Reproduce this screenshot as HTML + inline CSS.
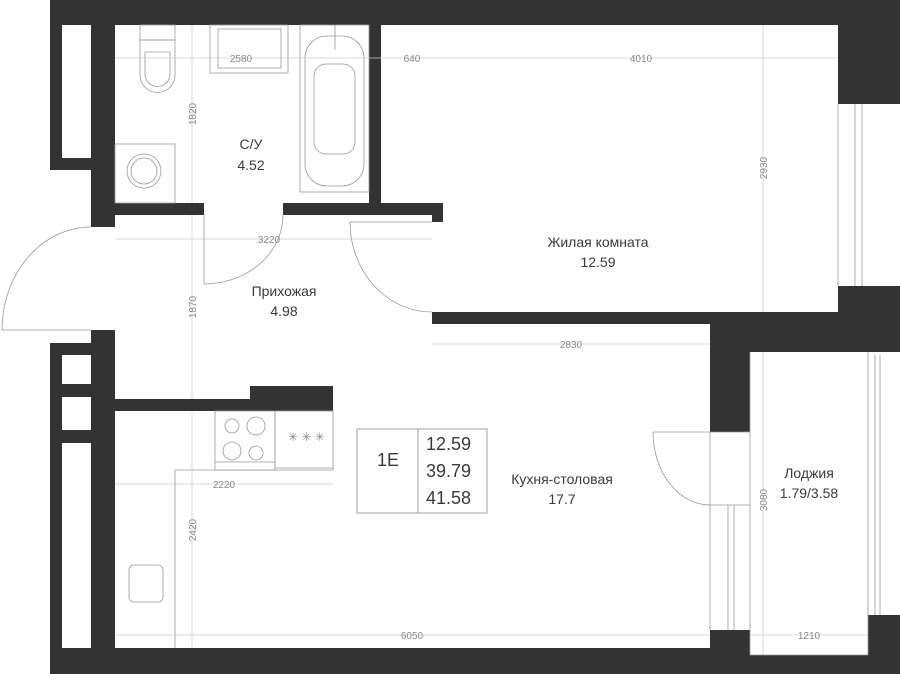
<!DOCTYPE html>
<html><head><meta charset="utf-8"><style>
html,body{margin:0;padding:0;background:#fff;}
svg{display:block;}
.d{fill:#333;}
.t{font-family:"Liberation Sans","DejaVu Sans",sans-serif;fill:#3a3a3a;}
.dim{font-family:"Liberation Sans",sans-serif;fill:#888;font-size:10px;}
.ln{stroke:#ccc;stroke-width:0.8;fill:none;}
.fx{stroke:#999;stroke-width:0.8;fill:none;}
</style></head><body>
<svg width="900" height="674" viewBox="0 0 900 674" xmlns="http://www.w3.org/2000/svg">
<!-- walls -->
<rect class="d" x="50" y="0" width="850" height="25"/>
<rect class="d" x="50" y="0" width="65" height="170"/>
<rect fill="#fff" x="62" y="25" width="29" height="133"/>
<rect class="d" x="91" y="160" width="24" height="67"/>
<rect class="d" x="838" y="0" width="62" height="104"/>
<rect class="d" x="838" y="286" width="62" height="38"/>
<rect class="d" x="369" y="25" width="12" height="190"/>
<rect class="d" x="115" y="203" width="89" height="12"/>
<rect class="d" x="283" y="203" width="160" height="12"/>
<rect class="d" x="432" y="203" width="11" height="19"/>
<rect class="d" x="432" y="312" width="406" height="12"/>
<rect class="d" x="710" y="312" width="190" height="40"/>
<rect class="d" x="710" y="324" width="40" height="108"/>
<rect class="d" x="710" y="630" width="40" height="20"/>
<rect class="d" x="868" y="615" width="32" height="59"/>
<rect class="d" x="50" y="343" width="65" height="331"/>
<rect fill="#fff" x="62" y="355" width="29" height="29"/>
<rect fill="#fff" x="62" y="397" width="29" height="33"/>
<rect fill="#fff" x="62" y="443" width="29" height="205"/>
<rect class="d" x="50" y="648" width="850" height="26"/>
<rect fill="#fff" x="750" y="640" width="118" height="15"/>
<rect class="d" x="115" y="399" width="218" height="12"/>
<rect class="d" x="250" y="386" width="83" height="25"/>
<rect class="d" x="91" y="330" width="24" height="13"/>
<!-- windows -->
<g class="fx">
<line x1="838" y1="104" x2="838" y2="286"/><line x1="855" y1="104" x2="855" y2="286"/><line x1="862" y1="104" x2="862" y2="286"/>
<line x1="868" y1="352" x2="868" y2="615"/><line x1="875" y1="355" x2="875" y2="615"/><line x1="880" y1="355" x2="880" y2="615"/>
<line x1="728" y1="505" x2="728" y2="630"/><line x1="734" y1="505" x2="734" y2="630"/>
<line x1="710" y1="505" x2="750" y2="505"/><line x1="710" y1="432" x2="710" y2="630"/>
<line x1="750" y1="352" x2="750" y2="655"/><line x1="750" y1="655" x2="868" y2="655"/><line x1="868" y1="615" x2="868" y2="655"/>
</g>
<!-- doors -->
<g class="fx">
<line x1="2" y1="330" x2="91" y2="330"/><path d="M2 330 A89 103 0 0 1 91 227"/>
<line x1="204" y1="215" x2="204" y2="284"/><path d="M204 284 A79 69 0 0 0 283 215"/>
<line x1="350" y1="222" x2="432" y2="222"/><path d="M350 222 A82 90 0 0 0 432 312"/>
<line x1="653" y1="432" x2="750" y2="432"/><path d="M653 432 A57 73 0 0 0 710 505"/>
</g>
<!-- fixtures -->
<g class="fx">
<rect x="140" y="25" width="35" height="15"/>
<path d="M140 40 h35 v35 a17 17 0 0 1 -35 0 z"/>
<path d="M145 52 h25 v22 a12 12 0 0 1 -25 0 z"/>
<rect x="115" y="144" width="60" height="59"/><circle cx="144" cy="171" r="17"/><circle cx="144" cy="171" r="13"/>
<rect x="210" y="25" width="78" height="48"/><rect x="218" y="29" width="63" height="39"/>
<rect x="300" y="25" width="69" height="167"/>
<rect x="305" y="36" width="59" height="150" rx="22"/><rect x="314" y="64" width="41" height="90" rx="12"/>
<line x1="335" y1="25" x2="335" y2="50"/>
<rect x="215" y="411" width="60" height="59"/><line x1="215" y1="462" x2="275" y2="462"/>
<circle cx="232" cy="426" r="7"/><circle cx="256" cy="426" r="9"/><circle cx="232" cy="451" r="9"/><circle cx="256" cy="453" r="7"/>
<rect x="275" y="411" width="58" height="57"/>
<path d="M175 648 V470 H333 V465"/>
<rect x="129" y="565" width="34" height="37" rx="5"/>
</g>
<text class="dim" x="288" y="441" style="font-size:12px">✳ ✳ ✳</text>
<!-- dimension lines -->
<g class="ln">
<line x1="115" y1="58" x2="838" y2="58"/>
<line x1="192" y1="25" x2="192" y2="203"/>
<line x1="192" y1="215" x2="192" y2="399"/>
<line x1="115" y1="239" x2="432" y2="239"/>
<line x1="763" y1="25" x2="763" y2="312"/>
<line x1="432" y1="344" x2="710" y2="344"/>
<line x1="115" y1="484" x2="333" y2="484"/>
<line x1="192" y1="411" x2="192" y2="648"/>
<line x1="115" y1="635" x2="710" y2="635"/>
<line x1="763" y1="352" x2="763" y2="655"/>
<line x1="750" y1="635" x2="868" y2="635"/>
</g>
<g class="dim" text-anchor="middle">
<text x="241" y="62">2580</text>
<text x="412" y="62">640</text>
<text x="641" y="62">4010</text>
<text x="269" y="243">3220</text>
<text x="571" y="348">2830</text>
<text x="224" y="488">2220</text>
<text x="412" y="639">6050</text>
<text x="809" y="639">1210</text>
<text transform="translate(196,114) rotate(-90)">1820</text>
<text transform="translate(196,307) rotate(-90)">1870</text>
<text transform="translate(196,530) rotate(-90)">2420</text>
<text transform="translate(767,168) rotate(-90)">2930</text>
<text transform="translate(767,500) rotate(-90)">3080</text>
</g>
<!-- labels -->
<g class="t" text-anchor="middle" font-size="14">
<text x="251" y="149">С/У</text><text x="251" y="170">4.52</text>
<text x="284" y="296">Прихожая</text><text x="284" y="316">4.98</text>
<text x="598" y="247">Жилая комната</text><text x="598" y="267">12.59</text>
<text x="562" y="484">Кухня-столовая</text><text x="562" y="504">17.7</text>
<text x="809" y="478">Лоджия</text><text x="809" y="498">1.79/3.58</text>
</g>
<rect x="357" y="429" width="130" height="84" fill="none" stroke="#888" stroke-width="0.8"/>
<line x1="418" y1="429" x2="418" y2="513" stroke="#888" stroke-width="0.8"/>
<g class="t" font-size="18">
<text x="388" y="466" text-anchor="middle">1E</text>
<text x="426" y="450">12.59</text>
<text x="426" y="477">39.79</text>
<text x="426" y="504">41.58</text>
</g>
</svg>
</body></html>
